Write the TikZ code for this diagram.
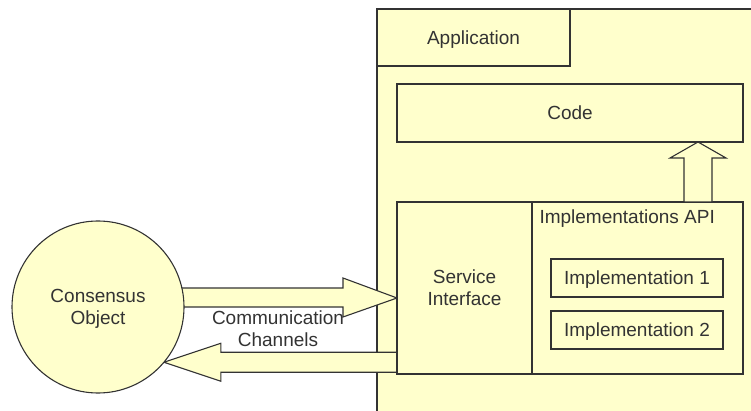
\documentclass[tikz,border=0pt]{standalone}
\usepackage{fontspec}
\setmainfont{Liberation Sans}
\usetikzlibrary{calc,backgrounds}
\definecolor{pale}{HTML}{FFFFCC}
\definecolor{ink}{HTML}{333333}
\tikzset{
  box/.style={draw=ink, fill=pale, line width=1.1pt, inner sep=0pt, outer sep=0pt},
  fat/.style={draw=ink, fill=pale, line width=1.1pt, line join=miter},
  every node/.style={text=ink, text depth=0pt, font=\fontsize{19}{22}\selectfont}
}
\begin{document}
\begin{tikzpicture}[x=1pt,y=-1pt]
\useasboundingbox (0,0) rectangle (751,411);
% application parts
\node[box, minimum width=193, minimum height=57] (tab) at (473.5,37.5) {Application};
\node[box, minimum width=346, minimum height=58] (code) at (570,113) {Code};
\node[box, minimum width=135, minimum height=172, align=center] (srv) at (464.5,288) {Service\\Interface};
\node[box, minimum width=211, minimum height=172] (api) at (637.5,288) {};
\node[anchor=west, xshift=4pt, yshift=-15pt] (apilbl) at (api.north west) {Implementations API};
\node[box, minimum width=172, minimum height=38] (impa) at (637,278) {Implementation 1};
\node[box, minimum width=172, minimum height=38] (impb) at (637,330) {Implementation 2};
% the object
\node[box, circle, minimum size=172, align=center] (cons) at (98,307) {Consensus\\Object};
\node[align=center] (comm) at (278,329) {Communication\\Channels};
% arrow up to the code
\coordinate (upt) at ($(code.south)+(128,0)$);
\path (upt) +(14,16) coordinate (u1) +(-14,16) coordinate (u2);
\draw[fat] (upt) -- +(28,16) -- (u1) -- (u1 |- api.north) -- (u2 |- api.north) -- (u2) -- +(-14,0) -- cycle;
\begin{scope}[on background layer]
\draw[box] (377,9) rectangle (790,440);
% channels
\coordinate (rtip) at ($(srv.west)+(0,10)$);
\path (rtip) +(0,-10) coordinate (r1) +(0,9) coordinate (r2);
\draw[fat] (rtip) -- +(-54,-20) -- +(-54,-10) -- (cons.center |- r1) -- (cons.center |- r2)
  -- ($(rtip)+(-54,9)$) -- ($(rtip)+(-54,19)$) -- cycle;
\coordinate (ltip) at (cons.-40);
\path (ltip) +(0,-10) coordinate (l1) +(0,10) coordinate (l2);
\draw[fat] (ltip) -- +(57,-19) -- +(57,-10) -- (srv.west |- l1) -- (srv.west |- l2)
  -- ($(ltip)+(57,10)$) -- ($(ltip)+(57,19)$) -- cycle;
\end{scope}
\end{tikzpicture}
\end{document}
